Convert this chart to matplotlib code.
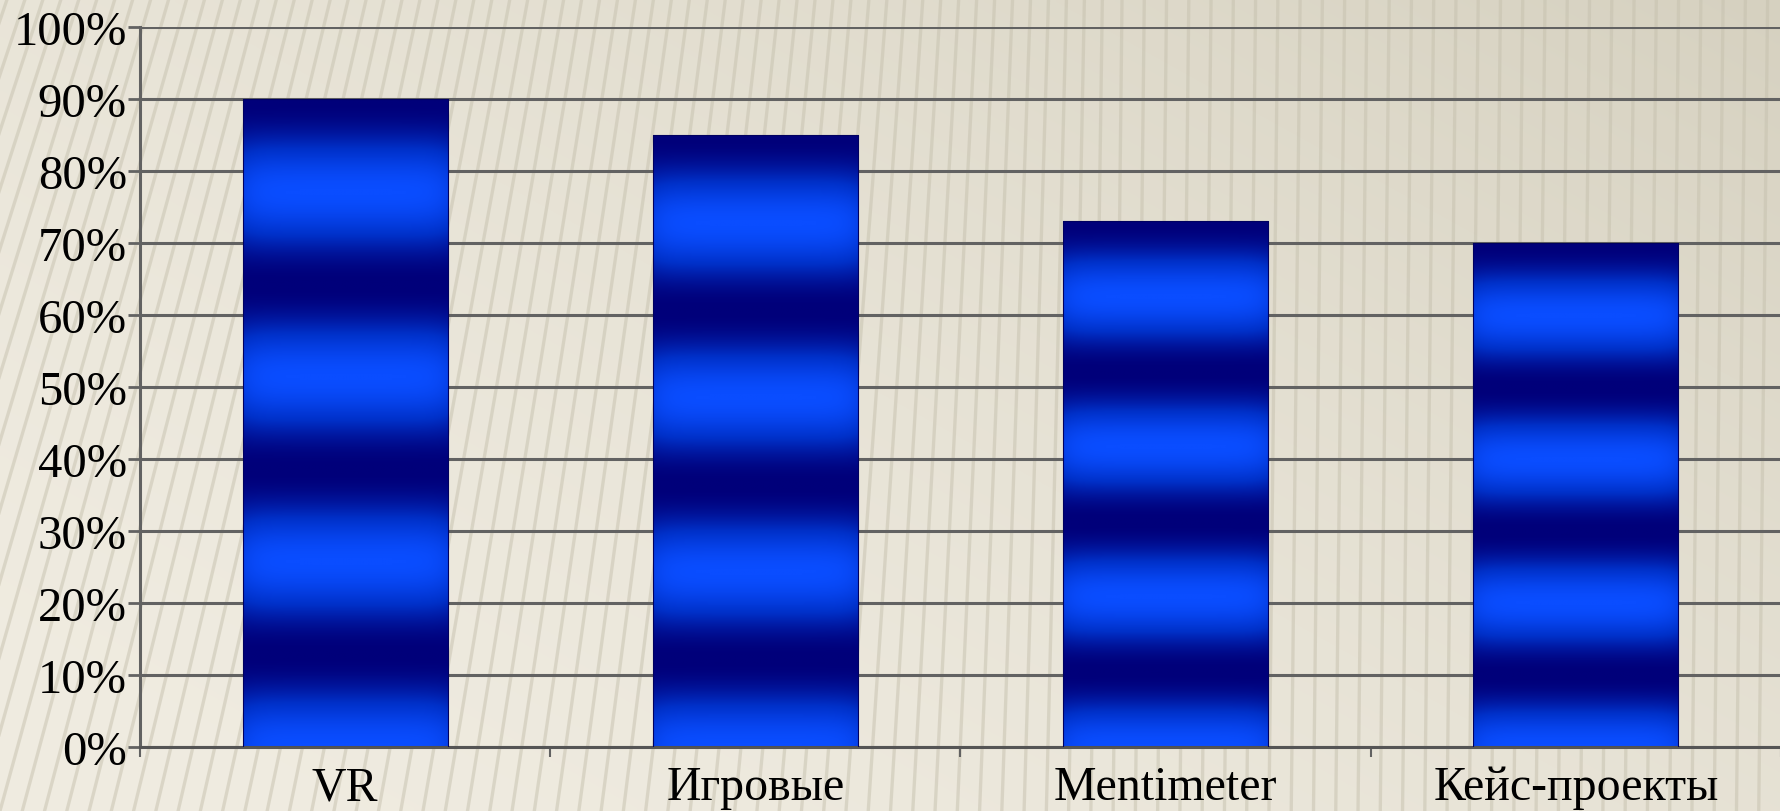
import numpy as np
import matplotlib.pyplot as plt
from matplotlib.colors import LinearSegmentedColormap
from matplotlib.lines import Line2D

# chart data
categories = ["VR", "Игровые", "Mentimeter", "Кейс-проекты"]
values = [90, 85, 73, 70]
y_ticks = [0, 10, 20, 30, 40, 50, 60, 70, 80, 90, 100]
y_tick_labels = [f"{v}%" for v in y_ticks]

plt.rcParams['font.family'] = ['Liberation Serif', 'DejaVu Serif']

fig = plt.figure(figsize=(17.81, 8.12), dpi=100)

# slide background: beige, a bit darker and greyer to the lower right, with thin stripes
bg = fig.add_axes([0, 0, 1, 1], zorder=-10)
gx, gy = np.meshgrid(np.linspace(0, 1, 300), np.linspace(1, 0, 150))
shade = np.clip(0.55 * gx + 0.45 * gy, 0, 1) ** 1.6
light = np.array([240, 236, 225]) / 255
dark = np.array([214, 209, 192]) / 255
img = light[None, None, :] * (1 - shade[..., None]) + dark[None, None, :] * shade[..., None]
bg.imshow(img, extent=[0, 1, 0, 1], aspect='auto', interpolation='bilinear')
for x0 in np.arange(-0.2, 1.05, 0.0125):
    lean = 0.12 * max(0.0, 0.62 - x0) / 0.62 + 0.005
    bg.add_line(Line2D([x0, x0 + lean], [0, 1], color='#c6c1ae', lw=2.4, alpha=0.5))
bg.set_xlim(0, 1)
bg.set_ylim(0, 1)
bg.axis('off')

ax = fig.add_axes([140 / 1781, 64 / 812, 1 - 140 / 1781, (748 - 28) / 812])
ax.set_facecolor('none')

# banded blue gradient used inside each bar
band_cmap = LinearSegmentedColormap.from_list('bands', ['#00007a', '#0030c8', '#0a4dff'])
x = np.arange(len(categories))
width = 0.5
bars = ax.bar(x, values, width=width, color='none', edgecolor='#000060', linewidth=0.8, zorder=3)
t = np.linspace(0, 1, 400)[:, None]
band = 0.5 + 0.5 * np.cos(2 * np.pi * 3.5 * t)
band = band ** 1.15
edge = np.linspace(-1, 1, 60)[None, :]
shade_h = 1 - 0.18 * np.abs(edge) ** 8
for rect, v in zip(bars, values):
    x0 = rect.get_x()
    grad = band * shade_h
    im = ax.imshow(grad, extent=[x0, x0 + width, 0, v], origin='lower', aspect='auto',
                   cmap=band_cmap, vmin=0, vmax=1, zorder=2, interpolation='bilinear')
    im.set_clip_path(rect)

ax.set_xlim(-0.5, 3.487)
ax.set_ylim(0, 100)

# horizontal gridlines
ax.set_yticks(y_ticks)
ax.set_yticklabels(y_tick_labels, fontsize=35)
ax.yaxis.grid(True, color='#626262', linewidth=2.2, zorder=1)
ax.set_axisbelow(True)

ax.set_xticks(x)
ax.set_xticklabels(categories, fontsize=34.5)
ax.set_xticks(np.arange(-0.5, len(categories), 1), minor=True)
ax.tick_params(axis='x', which='major', length=0, pad=13)
ax.tick_params(axis='x', which='minor', length=7, width=1.5, color='#626262', direction='out')
ax.tick_params(axis='y', length=8.5, width=2, color='#626262', pad=1)

for side in ['top', 'right']:
    ax.spines[side].set_visible(False)
ax.spines['left'].set_color('#626262')
ax.spines['left'].set_linewidth(2.2)
ax.spines['bottom'].set_color('#555555')
ax.spines['bottom'].set_linewidth(2.2)

plt.savefig('out.png', dpi=100)
